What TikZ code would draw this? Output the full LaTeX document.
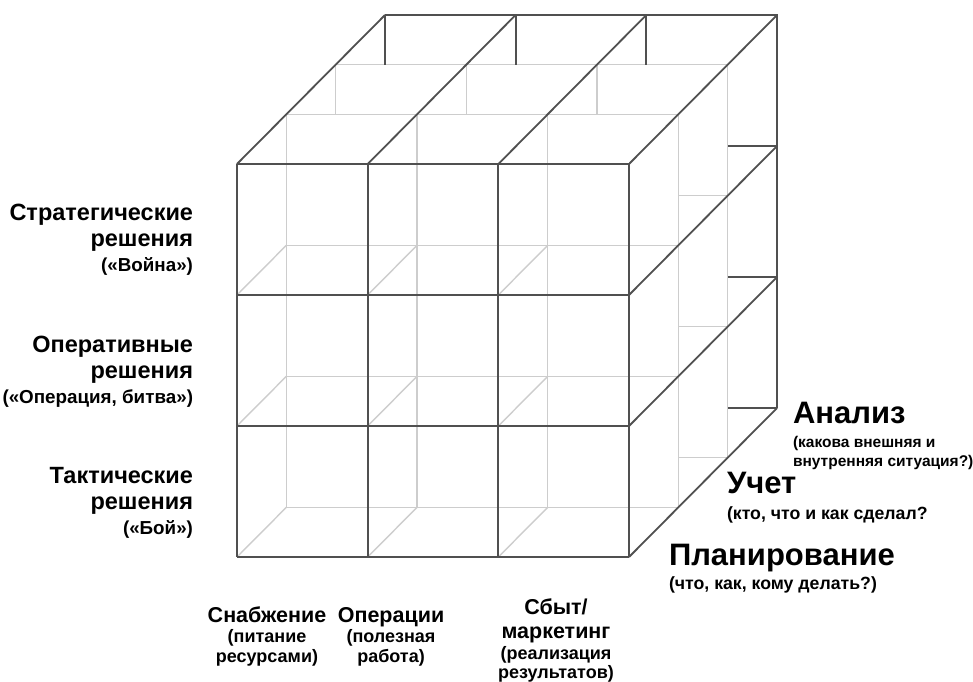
\documentclass[tikz,border=0pt]{standalone}
\usepackage{fontspec}
\setmainfont{Liberation Sans}
\definecolor{dkgray}{HTML}{505050}
\definecolor{ltgray}{HTML}{CDCDCD}
\begin{document}
\begin{tikzpicture}[x={(1pt,0)},y={(0,-1pt)},
  dk/.style={draw=dkgray, line width=1.8pt},
  lt/.style={draw=ltgray, line width=1.4pt},
  lab/.style={inner sep=0pt, outer sep=0pt, font=\bfseries},
  bigL/.style={lab, font=\bfseries\fontsize{23.5}{27}\selectfont},
  smallL/.style={lab, font=\bfseries\fontsize{18.8}{22}\selectfont},
  bigR/.style={lab, font=\bfseries\fontsize{31}{36}\selectfont},
  smallRa/.style={lab, font=\bfseries\fontsize{15.5}{18}\selectfont},
  smallR/.style={lab, font=\bfseries\fontsize{17.7}{20}\selectfont},
  bigB/.style={lab, font=\bfseries\fontsize{21.5}{25}\selectfont},
  smallB/.style={lab, font=\bfseries\fontsize{18}{21}\selectfont}]
\useasboundingbox (0,0) rectangle (973,681);
\fill[white] (0,0) rectangle (973,681);
% grid points
\foreach \i in {0,...,3}{\foreach \j in {0,...,3}{\foreach \k in {0,...,3}{
  \coordinate (p\i\j\k) at ({237+130.67*\i+49.33*\k},{164+131*\j-49.67*\k});}}}
% light (inner) lines
\foreach \i in {0,...,3} \draw[lt] (p\i01) -- (p\i31);
\foreach \j in {0,...,3} \draw[lt] (p0\j1) -- (p3\j1);
\foreach \i in {0,1,2}{\foreach \j in {1,2,3}{\draw[lt] (p\i\j0) -- (p\i\j1);}}
\draw[lt] (p002) -- (p302);
\foreach \i in {0,1,2} \draw[lt] (p\i02) -- (p\i02 |- p001);
\draw[lt] (p302) -- (p332);
\foreach \j in {1,2,3} \draw[lt] (p3\j2) -- (p3\j2 -| p301);
% dark lines
\foreach \i in {0,...,3} \draw[dk] (p\i00) -- (p\i30);
\foreach \j in {0,...,3} \draw[dk] (p0\j0) -- (p3\j0);
\foreach \i in {0,...,3} \draw[dk] (p\i00) -- (p\i03);
\foreach \j in {1,2,3} \draw[dk] (p3\j0) -- (p3\j3);
\draw[dk] (p003) -- (p303) -- (p333);
\foreach \i in {0,1,2} \draw[dk] (p\i03) -- (p\i03 |- p002);
\foreach \j in {1,2,3} \draw[dk] (p3\j3) -- (p3\j3 -| p302);
% left labels
\node[bigL, anchor=base east] (l1a) at (193,220) {Стратегические};
\node[bigL, anchor=base east] (l1b) at (193,246) {решения};
\node[smallL, anchor=base east] (l1c) at (193,271) {(«Война»)};
\node[bigL, anchor=base east] (l2a) at (193,352) {Оперативные};
\node[bigL, anchor=base east] (l2b) at (193,378) {решения};
\node[smallL, anchor=base east] (l2c) at (193,403) {(«Операция, битва»)};
\node[bigL, anchor=base east] (l3a) at (193,483) {Тактические};
\node[bigL, anchor=base east] (l3b) at (193,509) {решения};
\node[smallL, anchor=base east] (l3c) at (193,534) {(«Бой»)};
% right labels
\node[bigR, anchor=base west] (r1a) at (793,423) {Анализ};
\node[smallRa, anchor=base west] (r1b) at (793,447) {(какова внешняя и};
\node[smallRa, anchor=base west] (r1c) at (793,466) {внутренняя ситуация?)};
\node[bigR, anchor=base west] (r2a) at (727,493) {Учет};
\node[smallR, anchor=base west] (r2b) at (727,519) {(кто, что и как сделал?};
\node[bigR, anchor=base west] (r3a) at (669,565) {Планирование};
\node[smallR, anchor=base west] (r3b) at (669,589) {(что, как, кому делать?)};
% bottom labels
\node[bigB, anchor=base] (b1a) at (267,622) {Снабжение};
\node[smallB, anchor=base] (b1b) at (267,642) {(питание};
\node[smallB, anchor=base] (b1c) at (267,662) {ресурсами)};
\node[bigB, anchor=base] (b2a) at (391,622) {Операции};
\node[smallB, anchor=base] (b2b) at (391,642) {(полезная};
\node[smallB, anchor=base] (b2c) at (391,662) {работа)};
\node[bigB, anchor=base] (b3a) at (556,614) {Сбыт/};
\node[bigB, anchor=base] (b3b) at (556,638) {маркетинг};
\node[smallB, anchor=base] (b3c) at (556,659) {(реализация};
\node[smallB, anchor=base] (b3d) at (556,678) {результатов)};
\end{tikzpicture}
\end{document}
